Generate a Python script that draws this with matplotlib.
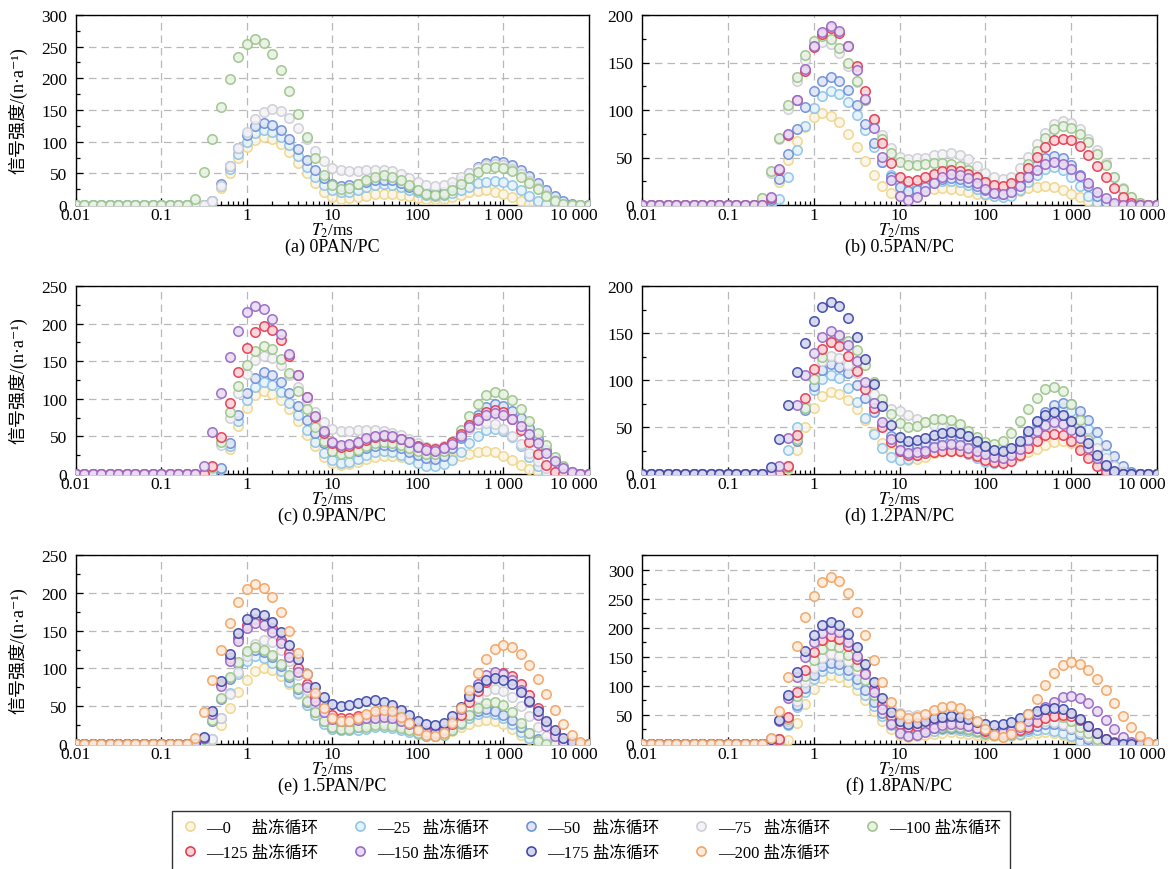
import numpy as np
import matplotlib
matplotlib.use("Agg")
import matplotlib.pyplot as plt
from matplotlib.lines import Line2D
from matplotlib.ticker import MultipleLocator, LogLocator, NullFormatter, FixedLocator
import matplotlib.transforms as mtransforms
from matplotlib.colors import to_rgb

plt.rcParams['mathtext.fontset'] = 'stix'
plt.rcParams['font.family'] = ['Liberation Serif', 'Noto Sans CJK SC']

# T2 sampling grid (ms): 0.01 .. 10000, 10 points per decade
T2 = 10 ** np.linspace(-2, 4, 61)

cycles = [0, 25, 50, 75, 100, 125, 150, 175, 200]
cycle_colors = ['#EFD68C', '#8CC3E8', '#6C8FD8', '#CDCDD6', '#9BC489',
                '#E8384F', '#9866C6', '#3C45A8', '#F2A262']

xtick_vals = [0.01, 0.1, 1, 10, 100, 1000, 10000]
xtick_labels = ['0.01', '0.1', '1', '10', '100', '1 000', '10 000']

# ---------------- (a) 0PAN/PC ----------------
a_c0 = [0, 0, 0, 0, 0, 0, 0, 0, 0, 0, 0, 0, 0, 0, 0, 0,
        5, 27, 51, 74, 91, 103, 107, 104, 96, 83, 67, 50, 34, 21, 13, 10,
        11, 13, 15, 17, 18, 17, 16, 14, 11, 10, 9, 10, 13, 16, 20, 22, 23,
        21, 17, 12, 6, 2, 0, 0, 0, 0, 0, 0, 0]
a_c25 = [0, 0, 0, 0, 0, 0, 0, 0, 0, 0, 0, 0, 0, 0, 0, 0,
         6, 30, 57, 81, 100, 113, 118, 115, 107, 94, 78, 60, 45, 31, 23, 20,
         21, 24, 29, 32, 33, 32, 29, 24, 20, 16, 15, 16, 19, 24, 29, 34, 37, 38,
         36, 31, 23, 15, 7, 2, 0, 0, 0, 0, 0]
a_c50 = [0, 0, 0, 0, 0, 0, 0, 0, 0, 0, 0, 0, 0, 0, 0, 0,
         7, 33, 62, 90, 111, 125, 130, 127, 118, 105, 89, 71, 55, 42, 33, 30,
         31, 33, 37, 39, 40, 39, 35, 29, 24, 19, 18, 21, 28, 38, 50, 60, 67, 70,
         68, 63, 56, 46, 35, 24, 14, 7, 2, 0, 0]
a_c75 = [0, 0, 0, 0, 0, 0, 0, 0, 0, 0, 0, 0, 0, 0, 0, 0,
         6, 30, 61, 90, 116, 135, 147, 152, 148, 138, 122, 104, 85, 69, 59, 55,
         54, 54, 55, 55, 55, 53, 49, 43, 36, 32, 30, 32, 37, 44, 51, 58, 63, 65,
         63, 57, 49, 38, 27, 16, 8, 2, 0, 0, 0]
a_c100 = [0, 0, 0, 0, 0, 0, 0, 0, 0, 0, 0, 0, 0, 0,
          10, 52, 105, 155, 199, 233, 254, 262, 256, 239, 213, 180, 144, 107, 74, 48, 31, 25,
          27, 33, 39, 45, 47, 45, 39, 32, 24, 18, 16, 18, 24, 33, 43, 52, 58, 60,
          58, 53, 45, 35, 25, 15, 7, 2, 0, 0, 0]

# ---------------- (b) 0.5PAN/PC ----------------
b_c0 = [0, 0, 0, 0, 0, 0, 0, 0, 0, 0, 0, 0, 0, 0, 0,
        5, 24, 47, 67, 82, 93, 97, 94, 87, 75, 61, 46, 32, 20, 13, 10,
        11, 13, 15, 17, 18, 17, 16, 14, 12, 11, 10, 11, 12, 15, 18, 19, 20,
        19, 16, 12, 8, 4, 1, 0, 0, 0, 0, 0, 0, 0]
b_c25 = [0, 0, 0, 0, 0, 0, 0, 0, 0, 0, 0, 0, 0, 0, 0, 0,
         6, 30, 58, 83, 102, 115, 120, 117, 108, 95, 79, 61, 45, 32, 23, 20,
         20, 22, 23, 25, 25, 24, 21, 17, 12, 9, 8, 10, 16, 24, 32, 38, 40,
         37, 30, 20, 10, 3, 0, 0, 0, 0, 0, 0, 0]
b_c50 = [0, 0, 0, 0, 0, 0, 0, 0, 0, 0, 0, 0, 0, 0, 0,
         5, 27, 54, 80, 103, 120, 131, 135, 131, 121, 105, 85, 65, 45, 29, 19, 15,
         16, 19, 24, 27, 28, 27, 24, 20, 16, 13, 12, 15, 22, 32, 42, 49, 52,
         49, 42, 32, 20, 10, 3, 0, 0, 0, 0, 0, 0]
b_c75 = [0, 0, 0, 0, 0, 0, 0, 0, 0, 0, 0, 0, 0, 0,
         7, 34, 69, 101, 131, 153, 167, 172, 169, 160, 146, 129, 110, 91, 74, 60, 51, 48,
         49, 50, 53, 54, 55, 53, 48, 41, 34, 29, 27, 30, 39, 51, 64, 76, 85, 88,
         86, 80, 70, 58, 44, 30, 18, 8, 2, 0, 0]
b_c100 = [0, 0, 0, 0, 0, 0, 0, 0, 0, 0, 0, 0, 0, 0,
          7, 36, 71, 105, 135, 158, 173, 178, 175, 165, 150, 131, 110, 89, 70, 55, 45, 42,
          42, 43, 44, 44, 43, 41, 37, 30, 24, 19, 17, 20, 29, 43, 57, 71, 80, 83,
          81, 75, 66, 54, 42, 29, 17, 8, 2, 0, 0]
b_c125 = [0, 0, 0, 0, 0, 0, 0, 0, 0, 0, 0, 0, 0, 0, 0,
          7, 37, 74, 110, 141, 166, 180, 186, 181, 167, 146, 120, 91, 65, 44, 30, 25,
          26, 29, 33, 36, 37, 36, 33, 29, 24, 21, 20, 23, 29, 39, 51, 61, 68, 70,
          68, 62, 53, 41, 29, 18, 8, 2, 0, 0, 0]
b_c150 = [0, 0, 0, 0, 0, 0, 0, 0, 0, 0, 0, 0, 0, 0, 0,
          8, 38, 75, 111, 143, 167, 182, 188, 183, 167, 142, 112, 81, 51, 26, 10, 5,
          8, 15, 23, 30, 33, 32, 28, 23, 17, 13, 12, 14, 20, 29, 37, 43, 45,
          43, 38, 31, 23, 14, 7, 2, 0, 0, 0, 0, 0]

# ---------------- (c) 0.9PAN/PC ----------------
c_c0 = [0, 0, 0, 0, 0, 0, 0, 0, 0, 0, 0, 0, 0, 0, 0, 0, 0,
        7, 33, 64, 88, 105, 110, 107, 99, 86, 70, 52, 37, 23, 15, 12,
        13, 16, 20, 23, 24, 24, 23, 21, 20, 18, 18, 19, 21, 24, 27, 29, 30,
        29, 24, 18, 12, 6, 2, 0, 0, 0, 0, 0, 0]
c_c25 = [0, 0, 0, 0, 0, 0, 0, 0, 0, 0, 0, 0, 0, 0, 0, 0, 0,
         7, 37, 71, 98, 116, 122, 119, 109, 95, 78, 59, 42, 28, 18, 15,
         16, 20, 25, 29, 30, 29, 25, 20, 15, 11, 10, 13, 19, 29, 41, 51, 58, 60,
         57, 49, 37, 23, 11, 3, 0, 0, 0, 0, 0]
c_c50 = [0, 0, 0, 0, 0, 0, 0, 0, 0, 0, 0, 0, 0, 0, 0, 0, 0,
         8, 41, 78, 108, 128, 135, 132, 122, 108, 91, 72, 55, 41, 31, 28,
         29, 31, 35, 37, 38, 37, 34, 29, 25, 21, 20, 24, 34, 48, 65, 79, 89, 93,
         91, 84, 74, 61, 47, 32, 19, 9, 2, 0, 0]
c_c75 = [0, 0, 0, 0, 0, 0, 0, 0, 0, 0, 0, 0, 0, 0, 0, 0,
         8, 39, 75, 108, 133, 151, 157, 154, 145, 132, 116, 98, 82, 69, 60, 57,
         57, 58, 58, 58, 57, 55, 52, 46, 41, 36, 35, 37, 43, 52, 60, 66, 68,
         66, 60, 51, 40, 28, 17, 8, 2, 0, 0, 0, 0]
c_c100 = [0, 0, 0, 0, 0, 0, 0, 0, 0, 0, 0, 0, 0, 0, 0, 0,
          9, 43, 82, 117, 145, 163, 170, 166, 153, 134, 111, 86, 63, 44, 31, 27,
          28, 32, 37, 41, 42, 41, 38, 34, 30, 27, 26, 30, 42, 58, 77, 93, 105, 109,
          106, 99, 87, 71, 55, 38, 22, 10, 3, 0, 0]
c_c125 = [0, 0, 0, 0, 0, 0, 0, 0, 0, 0, 0, 0, 0, 0, 0, 0,
          10, 49, 95, 136, 167, 189, 197, 192, 178, 157, 131, 102, 76, 55, 41, 36,
          37, 41, 45, 49, 50, 49, 46, 42, 37, 34, 33, 36, 43, 53, 65, 75, 82, 85,
          82, 73, 59, 43, 26, 12, 3, 0, 0, 0, 0]
c_c150 = [0, 0, 0, 0, 0, 0, 0, 0, 0, 0, 0, 0, 0, 0, 0,
          11, 56, 108, 155, 190, 215, 224, 220, 206, 186, 160, 132, 103, 77, 57, 43, 39,
          40, 43, 48, 51, 52, 51, 47, 42, 36, 32, 31, 34, 40, 50, 62, 72, 79, 81,
          79, 73, 64, 53, 41, 28, 17, 8, 2, 0, 0]

# ---------------- (d) 1.2PAN/PC ----------------
d_c0 = [0, 0, 0, 0, 0, 0, 0, 0, 0, 0, 0, 0, 0, 0, 0, 0, 0,
        5, 26, 50, 70, 83, 87, 85, 79, 69, 57, 45, 33, 23, 17, 15,
        16, 18, 22, 24, 25, 24, 23, 20, 18, 16, 15, 16, 19, 23, 27, 31, 34, 35,
        33, 28, 21, 14, 7, 2, 0, 0, 0, 0, 0]
d_c25 = [0, 0, 0, 0, 0, 0, 0, 0, 0, 0, 0, 0, 0, 0, 0, 0,
         5, 26, 50, 72, 89, 101, 105, 102, 92, 77, 60, 43, 28, 18, 15,
         16, 20, 25, 29, 30, 29, 26, 21, 17, 13, 12, 14, 20, 30, 41, 53, 62, 68, 70,
         67, 60, 48, 35, 22, 10, 3, 0, 0, 0, 0]
d_c50 = [0, 0, 0, 0, 0, 0, 0, 0, 0, 0, 0, 0, 0, 0, 0, 0, 0,
         7, 35, 68, 94, 111, 117, 114, 107, 95, 81, 66, 52, 40, 33, 30,
         31, 33, 37, 39, 40, 39, 36, 31, 27, 23, 22, 25, 32, 43, 55, 66, 73, 76,
         74, 67, 57, 45, 31, 19, 9, 2, 0, 0, 0]
d_c75 = [0, 0, 0, 0, 0, 0, 0, 0, 0, 0, 0, 0, 0, 0, 0, 0, 0,
         8, 38, 73, 101, 120, 126, 123, 116, 107, 96, 85, 75, 69, 67,
         63, 59, 55, 52, 50, 48, 45, 40, 34, 28, 23, 21, 23, 27, 34, 42, 49, 53, 55,
         53, 47, 38, 28, 17, 8, 2, 0, 0, 0, 0]
d_c100 = [0, 0, 0, 0, 0, 0, 0, 0, 0, 0, 0, 0, 0, 0, 0, 0, 0,
          7, 37, 70, 101, 124, 140, 146, 142, 132, 116, 98, 80, 64, 54, 50,
          51, 55, 58, 59, 57, 53, 46, 39, 34, 32, 35, 44, 56, 69, 81, 90, 93,
          88, 75, 57, 36, 18, 5, 0, 0, 0, 0, 0, 0]
d_c125 = [0, 0, 0, 0, 0, 0, 0, 0, 0, 0, 0, 0, 0, 0, 0, 0, 0,
          8, 42, 81, 112, 133, 140, 136, 126, 110, 90, 70, 50, 34, 24, 20,
          20, 22, 23, 25, 25, 24, 22, 19, 15, 13, 12, 14, 20, 28, 35, 41, 43,
          41, 35, 26, 17, 8, 2, 0, 0, 0, 0, 0, 0]
d_c150 = [0, 0, 0, 0, 0, 0, 0, 0, 0, 0, 0, 0, 0, 0, 0, 0,
          8, 38, 73, 105, 129, 146, 152, 148, 137, 120, 98, 76, 55, 37, 26, 22,
          23, 25, 29, 31, 32, 31, 28, 25, 21, 18, 17, 20, 27, 36, 46, 52, 55,
          53, 47, 38, 28, 17, 8, 2, 0, 0, 0, 0, 0]
d_c175 = [0, 0, 0, 0, 0, 0, 0, 0, 0, 0, 0, 0, 0, 0, 0,
          7, 37, 73, 108, 139, 163, 178, 183, 179, 166, 146, 122, 96, 72, 52, 39, 35,
          36, 38, 42, 44, 45, 44, 40, 35, 30, 26, 25, 28, 35, 46, 56, 63, 66,
          63, 56, 46, 33, 20, 10, 3, 0, 0, 0, 0, 0]

# ---------------- (e) 1.5PAN/PC ----------------
e_c0 = [0, 0, 0, 0, 0, 0, 0, 0, 0, 0, 0, 0, 0, 0, 0, 0,
        5, 25, 48, 69, 85, 96, 100, 98, 90, 80, 66, 52, 39, 28, 20, 18,
        19, 20, 23, 24, 25, 24, 22, 19, 15, 13, 12, 13, 17, 22, 27, 31, 32,
        30, 26, 20, 12, 6, 2, 0, 0, 0, 0, 0, 0]
e_c25 = [0, 0, 0, 0, 0, 0, 0, 0, 0, 0, 0, 0, 0, 0, 0, 0,
         7, 35, 67, 93, 110, 116, 114, 107, 96, 82, 67, 52, 38, 27, 20, 18,
         18, 19, 20, 22, 22, 21, 19, 16, 13, 11, 10, 12, 18, 26, 34, 40, 42,
         40, 34, 26, 16, 8, 2, 0, 0, 0, 0, 0, 0]
e_c50 = [0, 0, 0, 0, 0, 0, 0, 0, 0, 0, 0, 0, 0, 0, 0,
         6, 31, 60, 86, 106, 120, 125, 122, 115, 103, 89, 73, 56, 42, 30, 23, 20,
         21, 23, 25, 27, 28, 27, 24, 20, 16, 13, 12, 14, 21, 29, 38, 44, 46,
         44, 39, 32, 23, 14, 7, 2, 0, 0, 0, 0, 0]
e_c75 = [0, 0, 0, 0, 0, 0, 0, 0, 0, 0, 0, 0, 0, 0, 0, 0,
         7, 35, 66, 95, 117, 132, 138, 135, 125, 110, 91, 72, 53, 38, 28, 25,
         25, 27, 28, 30, 30, 29, 26, 21, 17, 13, 12, 15, 24, 36, 49, 61, 70, 73,
         70, 62, 50, 37, 23, 11, 3, 0, 0, 0, 0]
e_c100 = [0, 0, 0, 0, 0, 0, 0, 0, 0, 0, 0, 0, 0, 0, 0,
          6, 32, 61, 88, 109, 123, 128, 125, 118, 106, 91, 74, 57, 42, 30, 23, 20,
          20, 22, 23, 25, 25, 24, 21, 18, 14, 11, 10, 12, 19, 28, 38, 47, 54, 56,
          52, 42, 28, 14, 4, 0, 0, 0, 0, 0, 0]
e_c125 = [0, 0, 0, 0, 0, 0, 0, 0, 0, 0, 0, 0, 0, 0, 0,
          8, 41, 79, 114, 140, 158, 165, 162, 153, 138, 120, 100, 80, 62, 47, 38, 35,
          35, 37, 38, 40, 40, 38, 34, 28, 21, 17, 15, 18, 27, 39, 55, 70, 82, 91, 94,
          90, 80, 65, 47, 29, 14, 4, 0, 0, 0]
e_c150 = [0, 0, 0, 0, 0, 0, 0, 0, 0, 0, 0, 0, 0, 0, 0,
          8, 40, 77, 110, 136, 154, 160, 157, 148, 133, 115, 95, 75, 57, 42, 33, 30,
          31, 32, 34, 35, 36, 35, 31, 26, 20, 16, 15, 19, 30, 46, 64, 80, 91, 95,
          92, 84, 71, 56, 39, 24, 11, 3, 0, 0, 0]
e_c175 = [0, 0, 0, 0, 0, 0, 0, 0, 0, 0, 0, 0, 0, 0, 0,
          9, 43, 83, 119, 147, 166, 173, 170, 161, 148, 131, 112, 92, 75, 62, 53, 50,
          51, 54, 57, 58, 56, 52, 45, 38, 31, 27, 25, 28, 37, 49, 63, 75, 84, 87,
          85, 79, 69, 57, 44, 30, 18, 8, 2, 0, 0]
e_c200 = [0, 0, 0, 0, 0, 0, 0, 0, 0, 0, 0, 0, 0, 0,
          8, 42, 84, 124, 160, 188, 205, 211, 207, 194, 174, 149, 121, 92, 67, 47, 34, 30,
          31, 35, 40, 44, 45, 43, 36, 28, 19, 12, 10, 15, 28, 47, 71, 94, 113, 126, 131,
          128, 119, 104, 86, 66, 45, 27, 12, 3, 0]

# ---------------- (f) 1.8PAN/PC ----------------
f_c0 = [0, 0, 0, 0, 0, 0, 0, 0, 0, 0, 0, 0, 0, 0, 0, 0, 0,
        7, 36, 69, 95, 113, 119, 116, 106, 92, 75, 56, 39, 25, 15, 12,
        13, 15, 17, 19, 20, 19, 18, 16, 14, 13, 12, 13, 15, 17, 19, 20,
        19, 15, 10, 5, 1, 0, 0, 0, 0, 0, 0, 0, 0]
f_c25 = [0, 0, 0, 0, 0, 0, 0, 0, 0, 0, 0, 0, 0, 0, 0, 0,
         7, 33, 63, 90, 111, 126, 131, 128, 118, 103, 85, 66, 48, 33, 23, 20,
         20, 22, 23, 25, 25, 24, 23, 20, 18, 16, 15, 16, 18, 22, 24, 25,
         23, 19, 13, 6, 2, 0, 0, 0, 0, 0, 0, 0, 0]
f_c50 = [0, 0, 0, 0, 0, 0, 0, 0, 0, 0, 0, 0, 0, 0, 0, 0,
         7, 35, 67, 97, 119, 134, 140, 137, 127, 111, 92, 73, 54, 38, 28, 25,
         25, 26, 27, 28, 28, 27, 26, 23, 21, 19, 18, 19, 22, 26, 31, 34, 35,
         33, 26, 18, 9, 2, 0, 0, 0, 0, 0, 0, 0]
f_c75 = [0, 0, 0, 0, 0, 0, 0, 0, 0, 0, 0, 0, 0, 0, 0, 0,
         8, 39, 74, 106, 131, 148, 154, 151, 142, 128, 111, 93, 76, 62, 53, 50,
         50, 50, 51, 51, 50, 49, 45, 40, 35, 31, 30, 31, 33, 37, 39, 40,
         38, 34, 28, 20, 12, 6, 1, 0, 0, 0, 0, 0, 0]
f_c100 = [0, 0, 0, 0, 0, 0, 0, 0, 0, 0, 0, 0, 0, 0, 0, 0,
          9, 43, 82, 117, 145, 163, 170, 166, 153, 134, 110, 85, 61, 42, 29, 25,
          25, 27, 28, 30, 30, 29, 26, 23, 19, 16, 15, 17, 23, 32, 40, 46, 48,
          46, 39, 29, 19, 9, 2, 0, 0, 0, 0, 0, 0]
f_c125 = [0, 0, 0, 0, 0, 0, 0, 0, 0, 0, 0, 0, 0, 0, 0, 0,
          9, 47, 89, 128, 158, 179, 186, 181, 168, 147, 122, 94, 69, 48, 35, 30,
          31, 33, 35, 37, 38, 37, 33, 28, 23, 19, 18, 20, 24, 30, 38, 44, 48, 50,
          48, 41, 31, 19, 9, 3, 0, 0, 0, 0, 0]
f_c150 = [0, 0, 0, 0, 0, 0, 0, 0, 0, 0, 0, 0, 0, 0, 0,
          8, 39, 79, 116, 150, 175, 191, 197, 192, 176, 151, 121, 90, 60, 35, 19, 14,
          16, 21, 28, 33, 35, 34, 31, 28, 24, 21, 20, 22, 29, 39, 51, 63, 73, 80, 82,
          79, 70, 57, 41, 25, 12, 3, 0, 0, 0]
f_c175 = [0, 0, 0, 0, 0, 0, 0, 0, 0, 0, 0, 0, 0, 0, 0,
          8, 42, 84, 124, 160, 187, 204, 210, 205, 190, 166, 138, 107, 79, 55, 40, 35,
          36, 39, 44, 47, 48, 47, 43, 38, 34, 33, 34, 38, 44, 51, 57, 61, 62,
          60, 53, 43, 31, 19, 9, 2, 0, 0, 0, 0, 0]
f_c200 = [0, 0, 0, 0, 0, 0, 0, 0, 0, 0, 0, 0, 0, 0, 0,
          11, 57, 115, 169, 218, 255, 278, 287, 280, 259, 227, 187, 145, 106, 73, 52, 45,
          47, 52, 58, 63, 65, 62, 52, 39, 25, 16, 12, 17, 31, 51, 77, 101, 122, 136, 141,
          138, 128, 112, 92, 71, 49, 29, 13, 3, 0]

panels = [
    ('(a) 0PAN/PC', {0: a_c0, 25: a_c25, 50: a_c50, 75: a_c75, 100: a_c100}, 300),
    ('(b) 0.5PAN/PC', {0: b_c0, 25: b_c25, 50: b_c50, 75: b_c75, 100: b_c100,
                       125: b_c125, 150: b_c150}, 200),
    ('(c) 0.9PAN/PC', {0: c_c0, 25: c_c25, 50: c_c50, 75: c_c75, 100: c_c100,
                       125: c_c125, 150: c_c150}, 250),
    ('(d) 1.2PAN/PC', {0: d_c0, 25: d_c25, 50: d_c50, 75: d_c75, 100: d_c100,
                       125: d_c125, 150: d_c150, 175: d_c175}, 200),
    ('(e) 1.5PAN/PC', {0: e_c0, 25: e_c25, 50: e_c50, 75: e_c75, 100: e_c100,
                       125: e_c125, 150: e_c150, 175: e_c175, 200: e_c200}, 250),
    ('(f) 1.8PAN/PC', {0: f_c0, 25: f_c25, 50: f_c50, 75: f_c75, 100: f_c100,
                       125: f_c125, 150: f_c150, 175: f_c175, 200: f_c200}, 325),
]

W, H = 1175, 870
fig = plt.figure(figsize=(W / 100, H / 100), dpi=100)

col_x = [75.5, 642]
col_w = [513.5, 515]
row_top = [16, 287, 556]
row_bot = [206, 475, 745]


def light(c, f=0.78):
    r, g, b = to_rgb(c)
    return (r + (1 - r) * f, g + (1 - g) * f, b + (1 - b) * f)


for k, (caption, series, ymax) in enumerate(panels):
    r, c = divmod(k, 2)
    x0 = col_x[c] / W
    w = col_w[c] / W
    y0 = 1 - row_bot[r] / H
    h = (row_bot[r] - row_top[r]) / H
    ax = fig.add_axes([x0, y0, w, h])
    for cyc, vals in series.items():
        assert len(vals) == len(T2), (caption, cyc, len(vals))
        col = cycle_colors[cycles.index(cyc)]
        ax.plot(T2, vals, ls='none', marker='o', ms=6.8, mew=1.15,
                mec=col, mfc=light(col), alpha=0.9, zorder=3)
    ax.set_xscale('log')
    ax.set_xlim(0.01, 10000)
    ax.set_ylim(0, ymax)
    ax.xaxis.set_major_locator(FixedLocator(xtick_vals))
    ax.set_xticklabels(xtick_labels)
    ax.xaxis.set_minor_locator(LogLocator(base=10, subs=np.arange(2, 10), numticks=100))
    ax.xaxis.set_minor_formatter(NullFormatter())
    ax.yaxis.set_major_locator(MultipleLocator(50))
    ax.yaxis.set_minor_locator(MultipleLocator(25))
    ax.tick_params(which='both', direction='in', top=False, right=False,
                   labelsize=12.5, width=0.9)
    ax.tick_params(which='major', length=5)
    ax.tick_params(which='minor', length=3)
    ax.tick_params(axis='x', which='major', pad=1.5)
    ax.tick_params(axis='y', which='major', pad=6)
    ax.grid(True, which='major', ls=(0, (6, 4)), color='#b8b8b8', lw=0.9, zorder=0)
    for s in ax.spines.values():
        s.set_linewidth(1.0)
        s.set_color('black')
    # last tick label sits slightly left of the axis end
    lab = ax.xaxis.get_major_ticks()[-1].label1
    lab.set_transform(lab.get_transform() +
                      mtransforms.ScaledTranslation(-0.15, 0, fig.dpi_scale_trans))
    xc = (col_x[c] + col_w[c] / 2) / W
    fig.text(xc, 1 - (row_bot[r] + 25) / H, '$T_2$/ms', ha='center', va='center',
             fontsize=12.5)
    fig.text(xc, 1 - (row_bot[r] + 41) / H, caption, ha='center', va='center',
             fontsize=13)
    if c == 0:
        fig.text(18 / W, 1 - (row_top[r] + row_bot[r]) / 2 / H,
                 '信号强度/(n·a⁻¹)', rotation=90, ha='center', va='center',
                 fontsize=13,
                 family=['Liberation Serif', 'Noto Sans CJK SC', 'DejaVu Sans'])

# legend: entries fill row by row (0..100 on top, 125..200 below)
order = [0, 125, 25, 150, 50, 175, 75, 200, 100]
pads = {0: '     ', 25: '   ', 50: '   ', 75: '   '}
handles = []
labels = []
for cyc in order:
    col = cycle_colors[cycles.index(cyc)]
    handles.append(Line2D([], [], ls='none', marker='o', ms=6.6, mew=1.15,
                          mec=col, mfc=light(col)))
    labels.append('—' + str(cyc) + pads.get(cyc, ' ') + '盐冻循环')

leg = fig.legend(handles, labels, ncol=5, loc='upper left',
                 bbox_to_anchor=(172 / W, 1 - 812 / H),
                 frameon=True, fancybox=False, edgecolor='black',
                 prop={'family': ['Liberation Serif', 'Noto Sans CJK SC'], 'size': 12},
                 handlelength=1.0, handletextpad=0.5, columnspacing=2.0,
                 borderpad=0.55, labelspacing=0.5, borderaxespad=0)
leg.get_frame().set_linewidth(1.0)

fig.savefig('out.png', dpi=100)
